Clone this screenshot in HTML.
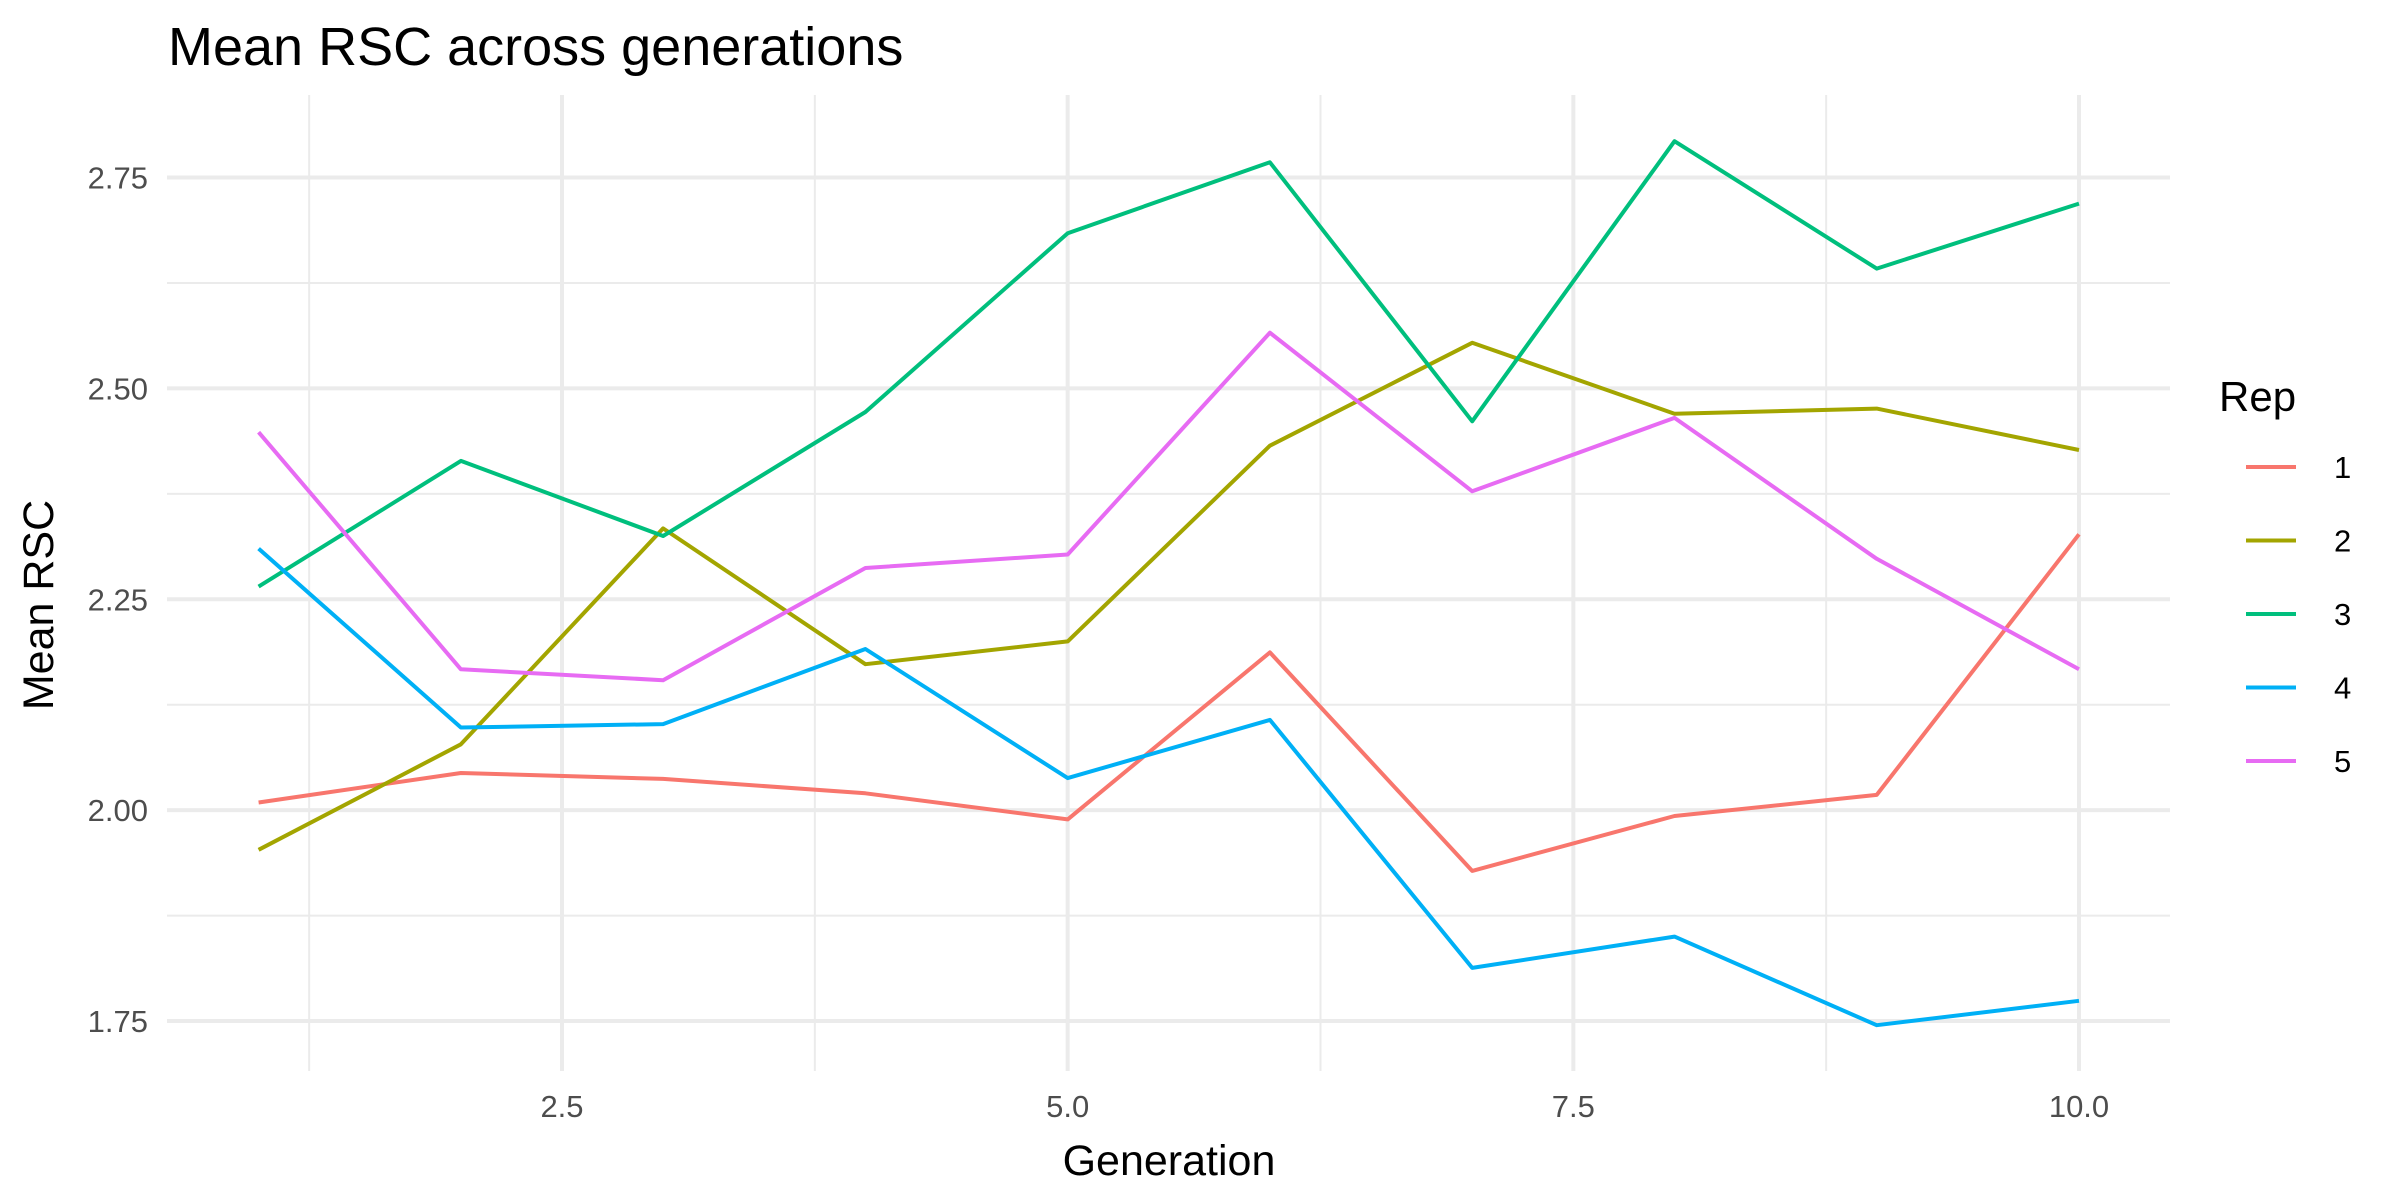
<!DOCTYPE html>
<html><head><meta charset="utf-8"><style>
html,body{margin:0;padding:0;background:#fff;}
svg{display:block;font-family:"Liberation Sans",sans-serif;}
</style></head><body>
<svg id="chart" width="2400" height="1200" viewBox="0 0 2400 1200">
<rect width="2400" height="1200" fill="#fff"/>
<text x="168" y="65" font-size="54" fill="#000">Mean RSC across generations</text>
<g id="grid"></g><g id="series"></g><g id="axes"></g><g id="legend"></g>
</svg>
<script>
const generations = [1,2,3,4,5,6,7,8,9,10];
const rep1 = [2.009,2.044,2.037,2.020,1.989,2.187,1.928,1.993,2.018,2.327];
const rep2 = [1.953,2.078,2.334,2.173,2.200,2.432,2.554,2.470,2.476,2.427];
const rep3 = [2.265,2.414,2.325,2.472,2.684,2.768,2.461,2.793,2.642,2.719];
const rep4 = [2.310,2.098,2.102,2.191,2.038,2.107,1.813,1.850,1.745,1.774];
const rep5 = [2.448,2.167,2.154,2.287,2.303,2.566,2.378,2.465,2.298,2.167];
const seriesNames = ["1","2","3","4","5"];
const seriesColors = ["#F8766D","#A3A500","#00BF7D","#00B0F6","#E76BF3"];
const xTicks = [2.5,5.0,7.5,10.0];
const xTickLabels = ["2.5","5.0","7.5","10.0"];
const xMinor = [1.25,3.75,6.25,8.75];
const yTicks = [1.75,2.00,2.25,2.50,2.75];
const yTickLabels = ["1.75","2.00","2.25","2.50","2.75"];
const yMinor = [1.875,2.125,2.375,2.625];

const NS="http://www.w3.org/2000/svg";
const L=167,R=2170,T=95,B=1071;
function xs(v){return 562+(v-2.5)*(2079-562)/7.5;}
function ys(v){return 1021-(v-1.75)*(1021-177.5)/1.0;}
function mk(tag,attrs,parent){const e=document.createElementNS(NS,tag);for(const k in attrs)e.setAttribute(k,attrs[k]);parent.appendChild(e);return e;}
const grid=document.getElementById('grid'),ser=document.getElementById('series'),ax=document.getElementById('axes'),leg=document.getElementById('legend');
yMinor.forEach(v=>{const e=mk('line',{x1:L,x2:R,y1:ys(v),y2:ys(v),stroke:'#ebebeb','stroke-width':2},grid);

});
xMinor.forEach(v=>{const e=mk('line',{x1:xs(v),x2:xs(v),y1:T,y2:B,stroke:'#ebebeb','stroke-width':2},grid);

});
yTicks.forEach((v,i)=>{const e=mk('line',{x1:L,x2:R,y1:ys(v),y2:ys(v),stroke:'#ebebeb','stroke-width':4},grid);


const t=mk('text',{x:148,y:ys(v)+11,'text-anchor':'end','font-size':31,fill:'#4d4d4d'},ax);t.textContent=yTickLabels[i];

});
xTicks.forEach((v,i)=>{const e=mk('line',{x1:xs(v),x2:xs(v),y1:T,y2:B,stroke:'#ebebeb','stroke-width':4},grid);


const t=mk('text',{x:xs(v),y:1117,'text-anchor':'middle','font-size':31,fill:'#4d4d4d'},ax);t.textContent=xTickLabels[i];

});
const xt=mk('text',{x:1169,y:1175,'text-anchor':'middle','font-size':43,fill:'#000'},ax);xt.textContent='Generation';


const yt=mk('text',{x:0,y:0,'text-anchor':'middle','font-size':43,fill:'#000',transform:'translate(53,605) rotate(-90)'},ax);yt.textContent='Mean RSC';


[rep1,rep2,rep3,rep4,rep5].forEach((d,i)=>{
 const pts=d.map((v,j)=>xs(generations[j]).toFixed(1)+','+ys(v).toFixed(1)).join(' ');
 const p=mk('polyline',{points:pts,fill:'none',stroke:seriesColors[i],'stroke-width':4,'stroke-linejoin':'round'},ser);
 
 
 const y=467+i*73.5;
 const k=mk('line',{x1:2246,x2:2296,y1:y,y2:y,stroke:seriesColors[i],'stroke-width':4},leg);
 
 
 const t=mk('text',{x:2334,y:y+11,'font-size':31,fill:'#000'},leg);t.textContent=seriesNames[i];
 
 
});
const lt=mk('text',{x:2219,y:411,'font-size':42,fill:'#000'},leg);lt.textContent='Rep';


</script>
</body></html>
